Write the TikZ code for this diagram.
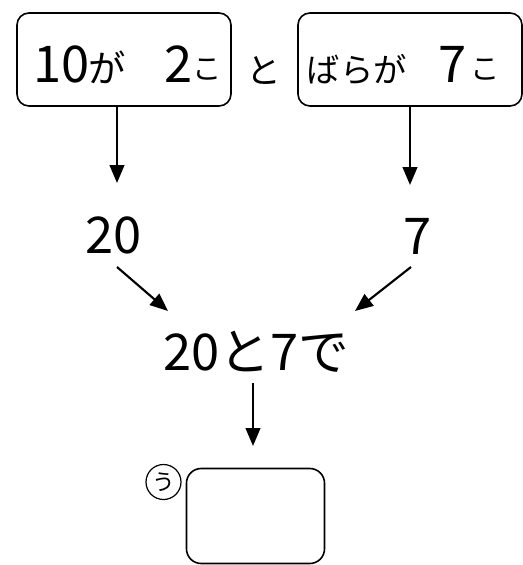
\documentclass[tikz,border=0pt]{standalone}
\usepackage{fontspec}
\setmainfont{Noto Sans CJK JP}
\usetikzlibrary{arrows.meta}
\newdimen\pxu \pxu=0.75pt
\newcommand\fs[1]{\fontsize{#1}{#1}\selectfont}
\begin{document}
\begin{tikzpicture}[x=0.75pt,y=-0.75pt,
  box/.style={draw,line width=1.2pt,rounded corners=9pt,inner sep=0pt},
  arr/.style={line width=1.6pt,-{Triangle[length=13.5pt,width=11pt]}},
  txt/.style={inner sep=0pt,anchor=base},
  big/.style={font=\fs{38}}]
\useasboundingbox (0,0) rectangle (523,565);
\node[box,minimum width=214\pxu,minimum height=93\pxu] (b1) at (124,59.5) {};
\node[box,minimum width=224\pxu,minimum height=93\pxu] (b2) at (410,59.5) {};
\node[txt,anchor=base west] (t1) at (33,82) {\makebox[56\pxu]{\fs{38}10}\makebox[36\pxu]{\fs{28}が}\makebox[36\pxu]{\ }\makebox[34\pxu]{\fs{38}2}\makebox[24\pxu]{\fs{22}\raisebox{3\pxu}{こ}}};
\node[txt,anchor=base west] (t2) at (308,82) {\makebox[97\pxu]{\fs{25}ばらが}\makebox[32\pxu]{\ }\makebox[31\pxu]{\fs{38}7}\makebox[33\pxu]{\fs{22}\raisebox{3\pxu}{こ}}};
\node[txt,font=\fs{26}] (to) at (264,83) {と};
\node[txt,big] (n20) at (113.5,253) {20};
\node[txt,big] (n7) at (418,254) {7};
\node[txt,big] (c) at (256,370) {20と7で};
\node[box,rounded corners=11pt,minimum width=138\pxu,minimum height=95\pxu] (ans) at (255.5,516) {};
\node[draw,circle,line width=0.9pt,minimum size=35\pxu,inner sep=0pt,font=\fs{17}] (u) at (163.5,482) {う};
\coordinate (a1s) at (117,106);
\coordinate (a1e) at (117,183);
\coordinate (a2s) at (410,106);
\coordinate (a2e) at (410,185);
\coordinate (d1s) at (117,267);
\coordinate (d1e) at (168,311);
\coordinate (d2s) at (411,267);
\coordinate (d2e) at (355,311);
\coordinate (d3s) at (253,383);
\coordinate (d3e) at (253,446);
\draw[arr] (a1s) -- (a1e);
\draw[arr] (a2s) -- (a2e);
\draw[arr] (d1s) -- (d1e);
\draw[arr] (d2s) -- (d2e);
\draw[arr] (d3s) -- (d3e);
\end{tikzpicture}
\end{document}
